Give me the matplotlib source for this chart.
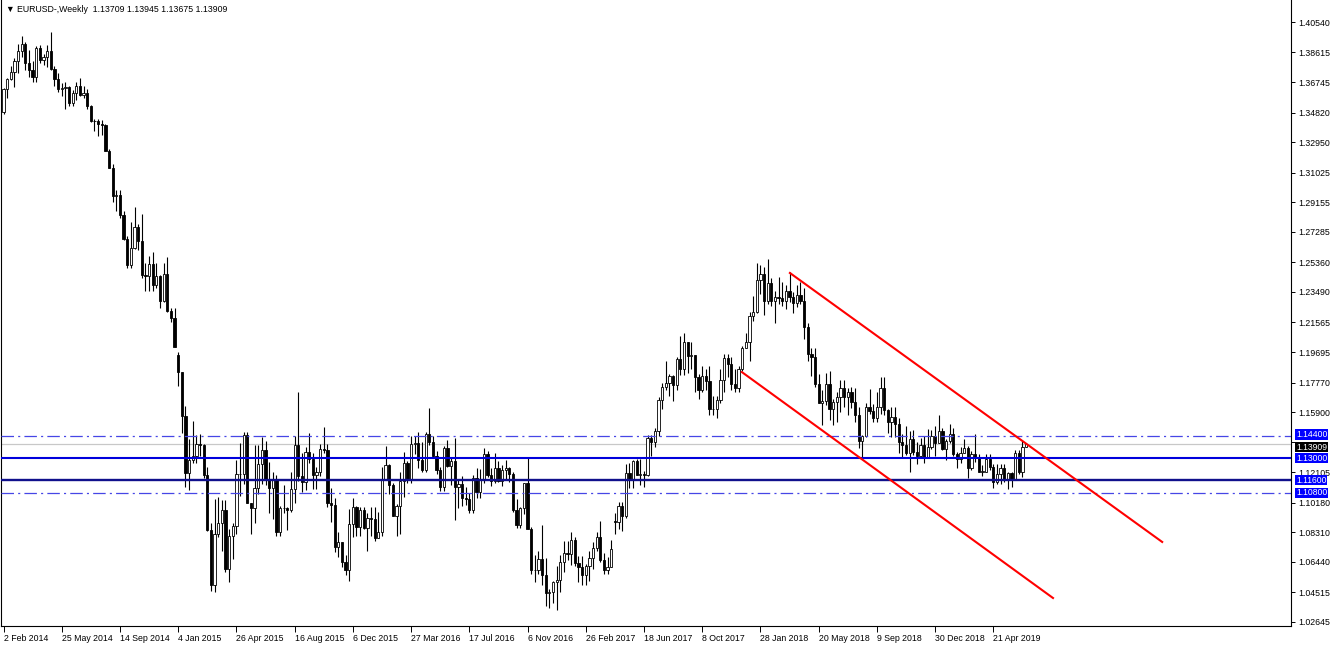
import numpy as np
import matplotlib.pyplot as plt
import matplotlib.transforms as mtransforms

plt.rcParams['font.family'] = ['Liberation Sans', 'DejaVu Sans']
plt.rcParams['lines.scale_dashes'] = False

# weekly EURUSD bars, 2 Feb 2014 .. 23 Jun 2019 (282 weeks)
opens = [
    # 2014
    1.3485, 1.3633, 1.3693, 1.3740, 1.3805, 1.3870, 1.3912, 1.3792, 1.3752, 1.3705, 1.3887, 1.3813,
    1.3832, 1.3870, 1.3757, 1.3696, 1.3632, 1.3636, 1.3642, 1.3541, 1.3608, 1.3647, 1.3592, 1.3605,
    1.3524, 1.3428, 1.3428, 1.3410, 1.3402, 1.3242, 1.3131, 1.2952, 1.2963, 1.2833, 1.2686, 1.2518,
    1.2628, 1.2760, 1.2670, 1.2453, 1.2450, 1.2525, 1.2390, 1.2452, 1.2289, 1.2465, 1.2228, 1.2186,
    # 2015
    1.1950, 1.1842, 1.1563, 1.1205, 1.1290, 1.1313, 1.1386, 1.1383, 1.1196, 1.0845, 1.0495, 1.0823,
    1.0890, 1.0970, 1.0600, 1.0805, 1.0872, 1.1198, 1.1202, 1.1447, 1.1015, 1.0987, 1.1111, 1.1265,
    1.1350, 1.1165, 1.1110, 1.1165, 1.0830, 1.0983, 1.0985, 1.0970, 1.1105, 1.1385, 1.1185, 1.1150,
    1.1340, 1.1297, 1.1195, 1.1215, 1.1355, 1.1350, 1.1015, 1.1005, 1.0740, 1.0770, 1.0645, 1.0590,
    1.0885, 1.0990, 1.0865, 1.0975,
    # 2016
    1.0860, 1.0920, 1.0915, 1.0795, 1.0830, 1.1160, 1.1255, 1.1130, 1.0935, 1.1000, 1.1155, 1.1270,
    1.1170, 1.1390, 1.1395, 1.1285, 1.1225, 1.1455, 1.1400, 1.1310, 1.1225, 1.1115, 1.1365, 1.1250,
    1.1280, 1.1115, 1.1135, 1.1050, 1.1040, 1.0975, 1.1175, 1.1085, 1.1165, 1.1325, 1.1195, 1.1155,
    1.1235, 1.1155, 1.1225, 1.1240, 1.1200, 1.0970, 1.0880, 1.0985, 1.1140, 1.0855, 1.0590, 1.0590,
    1.0665, 1.0560, 1.0450, 1.0455,
    # 2017
    1.0520, 1.0530, 1.0645, 1.0700, 1.0695, 1.0780, 1.0640, 1.0615, 1.0560, 1.0620, 1.0670, 1.0735,
    1.0800, 1.0655, 1.0590, 1.0615, 1.0905, 1.0895, 1.0995, 1.0935, 1.1205, 1.1165, 1.1280, 1.1195,
    1.1200, 1.1195, 1.1425, 1.1400, 1.1470, 1.1665, 1.1750, 1.1775, 1.1820, 1.1760, 1.1925, 1.1860,
    1.2035, 1.1945, 1.1950, 1.1815, 1.1730, 1.1820, 1.1785, 1.1610, 1.1610, 1.1665, 1.1795, 1.1935,
    1.1895, 1.1770, 1.1745, 1.1860,
    # 2018
    1.1995, 1.2030, 1.2200, 1.2225, 1.2425, 1.2460, 1.2290, 1.2405, 1.2295, 1.2315, 1.2310, 1.2290,
    1.2355, 1.2320, 1.2280, 1.2330, 1.2290, 1.2130, 1.1960, 1.1940, 1.1770, 1.1650, 1.1660, 1.1770,
    1.1610, 1.1655, 1.1685, 1.1745, 1.1685, 1.1720, 1.1655, 1.1570, 1.1410, 1.1440, 1.1620, 1.1600,
    1.1550, 1.1625, 1.1745, 1.1605, 1.1525, 1.1560, 1.1515, 1.1400, 1.1385, 1.1335, 1.1420, 1.1340,
    1.1315, 1.1385, 1.1305, 1.1370,
    # 2019
    1.1440, 1.1395, 1.1470, 1.1360, 1.1410, 1.1455, 1.1325, 1.1295, 1.1335, 1.1365, 1.1235, 1.1325,
    1.1300, 1.1215, 1.1215, 1.1295, 1.1245, 1.1150, 1.1200, 1.1235, 1.1160, 1.1205, 1.1170, 1.1335,
    1.1210, 1.13709,
]

highs = [
    1.3640, 1.3703, 1.3773, 1.3825, 1.3915, 1.3967, 1.3925, 1.3877, 1.3810, 1.3905, 1.3906, 1.3853,
    1.3907, 1.3993, 1.3775, 1.3734, 1.3669, 1.3677, 1.3648, 1.3625, 1.3676, 1.3700, 1.3647, 1.3630,
    1.3532, 1.3444, 1.3443, 1.3434, 1.3410, 1.3250, 1.3160, 1.2994, 1.2995, 1.2863, 1.2700, 1.2792,
    1.2887, 1.2780, 1.2840, 1.2535, 1.2577, 1.2600, 1.2533, 1.2456, 1.2532, 1.2570, 1.2250, 1.2250,
    1.1970, 1.1845, 1.1630, 1.1420, 1.1534, 1.1443, 1.1450, 1.1390, 1.1245, 1.0890, 1.1043, 1.1052,
    1.1035, 1.1035, 1.0850, 1.0890, 1.1290, 1.1392, 1.1467, 1.1465, 1.1015, 1.1380, 1.1385, 1.1436,
    1.1410, 1.1278, 1.1215, 1.1190, 1.0999, 1.1130, 1.0990, 1.1215, 1.1440, 1.1714, 1.1330, 1.1370,
    1.1460, 1.1330, 1.1245, 1.1390, 1.1495, 1.1390, 1.1110, 1.1050, 1.0830, 1.0760, 1.0690, 1.0980,
    1.1045, 1.1000, 1.0990, 1.0990,
    1.0950, 1.0990, 1.0990, 1.0960, 1.1245, 1.1375, 1.1260, 1.1140, 1.1010, 1.1215, 1.1340, 1.1280,
    1.1440, 1.1440, 1.1465, 1.1400, 1.1465, 1.1615, 1.1440, 1.1345, 1.1245, 1.1375, 1.1415, 1.1300,
    1.1425, 1.1165, 1.1185, 1.1120, 1.1080, 1.1195, 1.1235, 1.1230, 1.1365, 1.1345, 1.1240, 1.1330,
    1.1280, 1.1255, 1.1290, 1.1245, 1.1215, 1.1040, 1.0990, 1.1145, 1.1300, 1.0865, 1.0690, 1.0715,
    1.0875, 1.0670, 1.0475, 1.0525,
    1.0620, 1.0685, 1.0775, 1.0775, 1.0830, 1.0800, 1.0680, 1.0680, 1.0630, 1.0715, 1.0770, 1.0830,
    1.0905, 1.0700, 1.0675, 1.0780, 1.0950, 1.1020, 1.1020, 1.1265, 1.1270, 1.1285, 1.1295, 1.1295,
    1.1220, 1.1445, 1.1445, 1.1490, 1.1685, 1.1775, 1.1910, 1.1830, 1.1825, 1.1940, 1.2070, 1.2090,
    1.2035, 1.2035, 1.1950, 1.1830, 1.1880, 1.1860, 1.1880, 1.1690, 1.1690, 1.1860, 1.1960, 1.1960,
    1.1940, 1.1860, 1.1880, 1.2005,
    1.2090, 1.2220, 1.2325, 1.2535, 1.2520, 1.2505, 1.2555, 1.2435, 1.2355, 1.2445, 1.2410, 1.2390,
    1.2475, 1.2350, 1.2395, 1.2415, 1.2375, 1.2150, 1.1995, 1.1995, 1.1830, 1.1730, 1.1840, 1.1850,
    1.1670, 1.1720, 1.1790, 1.1790, 1.1745, 1.1750, 1.1745, 1.1625, 1.1445, 1.1650, 1.1735, 1.1640,
    1.1720, 1.1815, 1.1815, 1.1610, 1.1620, 1.1620, 1.1550, 1.1455, 1.1500, 1.1470, 1.1475, 1.1400,
    1.1425, 1.1440, 1.1485, 1.1475,
    1.1500, 1.1570, 1.1490, 1.1420, 1.1515, 1.1490, 1.1340, 1.1370, 1.1420, 1.1375, 1.1345, 1.1450,
    1.1325, 1.1255, 1.1325, 1.1325, 1.1265, 1.1265, 1.1265, 1.1265, 1.1215, 1.1215, 1.1350, 1.1350,
    1.1410, 1.13945,
]

lows = [
    1.3475, 1.3575, 1.3685, 1.3642, 1.3735, 1.3831, 1.3750, 1.3706, 1.3673, 1.3672, 1.3792, 1.3785,
    1.3772, 1.3750, 1.3648, 1.3615, 1.3587, 1.3503, 1.3525, 1.3525, 1.3560, 1.3585, 1.3574, 1.3505,
    1.3421, 1.3366, 1.3333, 1.3343, 1.3239, 1.3130, 1.2920, 1.2860, 1.2815, 1.2680, 1.2501, 1.2500,
    1.2622, 1.2615, 1.2440, 1.2358, 1.2358, 1.2358, 1.2375, 1.2246, 1.2285, 1.2220, 1.2162, 1.2000,
    1.1754, 1.1460, 1.1115, 1.1098, 1.1270, 1.1270, 1.1315, 1.1175, 1.0839, 1.0462, 1.0455, 1.0801,
    1.0713, 1.0578, 1.0520, 1.0660, 1.0818, 1.1060, 1.1135, 1.1015, 1.0819, 1.0887, 1.1070, 1.1134,
    1.1130, 1.0955, 1.0915, 1.0808, 1.0808, 1.0950, 1.0848, 1.0960, 1.1017, 1.1155, 1.1087, 1.1100,
    1.1270, 1.1105, 1.1105, 1.1185, 1.1330, 1.0990, 1.0895, 1.0705, 1.0675, 1.0615, 1.0560, 1.0525,
    1.0800, 1.0805, 1.0805, 1.0850,
    1.0710, 1.0805, 1.0775, 1.0795, 1.0810, 1.1160, 1.1070, 1.0935, 1.0810, 1.0820, 1.1055, 1.1145,
    1.1145, 1.1325, 1.1235, 1.1215, 1.1215, 1.1385, 1.1300, 1.1200, 1.1095, 1.1095, 1.1245, 1.1130,
    1.0910, 1.0985, 1.1000, 1.1005, 1.0950, 1.0950, 1.1045, 1.1045, 1.1145, 1.1180, 1.1125, 1.1145,
    1.1150, 1.1125, 1.1160, 1.1150, 1.0960, 1.0860, 1.0860, 1.0945, 1.0850, 1.0570, 1.0520, 1.0570,
    1.0500, 1.0365, 1.0350, 1.0385,
    1.0340, 1.0455, 1.0580, 1.0655, 1.0625, 1.0620, 1.0520, 1.0495, 1.0495, 1.0525, 1.0600, 1.0710,
    1.0645, 1.0570, 1.0570, 1.0610, 1.0820, 1.0850, 1.0840, 1.0920, 1.1110, 1.1110, 1.1190, 1.1130,
    1.1120, 1.1185, 1.1310, 1.1370, 1.1440, 1.1610, 1.1730, 1.1690, 1.1660, 1.1730, 1.1825, 1.1825,
    1.1840, 1.1860, 1.1715, 1.1670, 1.1720, 1.1730, 1.1575, 1.1575, 1.1555, 1.1645, 1.1715, 1.1810,
    1.1730, 1.1715, 1.1715, 1.1850,
    1.1995, 1.1915, 1.2165, 1.2215, 1.2335, 1.2205, 1.2275, 1.2260, 1.2150, 1.2275, 1.2260, 1.2240,
    1.2285, 1.2215, 1.2255, 1.2275, 1.2055, 1.1910, 1.1820, 1.1750, 1.1645, 1.1510, 1.1635, 1.1540,
    1.1510, 1.1525, 1.1590, 1.1625, 1.1575, 1.1615, 1.1530, 1.1365, 1.1300, 1.1430, 1.1580, 1.1530,
    1.1530, 1.1580, 1.1570, 1.1460, 1.1430, 1.1430, 1.1335, 1.1300, 1.1320, 1.1215, 1.1320, 1.1265,
    1.1305, 1.1270, 1.1300, 1.1355,
    1.1310, 1.1395, 1.1350, 1.1290, 1.1395, 1.1315, 1.1235, 1.1270, 1.1330, 1.1175, 1.1225, 1.1275,
    1.1215, 1.1185, 1.1210, 1.1225, 1.1110, 1.1135, 1.1135, 1.1150, 1.1105, 1.1115, 1.1160, 1.1200,
    1.1180, 1.13675,
]

closes = [
    1.3633, 1.3693, 1.3740, 1.3805, 1.3870, 1.3912, 1.3792, 1.3752, 1.3705, 1.3887, 1.3813, 1.3832,
    1.3870, 1.3757, 1.3696, 1.3632, 1.3636, 1.3642, 1.3541, 1.3608, 1.3647, 1.3592, 1.3605, 1.3524,
    1.3428, 1.3428, 1.3410, 1.3402, 1.3242, 1.3131, 1.2952, 1.2963, 1.2833, 1.2686, 1.2518, 1.2628,
    1.2760, 1.2670, 1.2453, 1.2450, 1.2525, 1.2390, 1.2452, 1.2289, 1.2465, 1.2228, 1.2186, 1.2002,
    1.1842, 1.1563, 1.1205, 1.1290, 1.1313, 1.1386, 1.1383, 1.1196, 1.0845, 1.0495, 1.0823, 1.0890,
    1.0970, 1.0600, 1.0805, 1.0872, 1.1198, 1.1202, 1.1447, 1.1015, 1.0987, 1.1111, 1.1265, 1.1350,
    1.1165, 1.1110, 1.1165, 1.0830, 1.0983, 1.0985, 1.0970, 1.1105, 1.1385, 1.1185, 1.1150, 1.1340,
    1.1297, 1.1195, 1.1215, 1.1355, 1.1350, 1.1015, 1.1005, 1.0740, 1.0770, 1.0645, 1.0590, 1.0885,
    1.0990, 1.0865, 1.0975, 1.0860,
    1.0920, 1.0915, 1.0795, 1.0830, 1.1160, 1.1255, 1.1130, 1.0935, 1.1000, 1.1155, 1.1270, 1.1170,
    1.1390, 1.1395, 1.1285, 1.1225, 1.1455, 1.1400, 1.1310, 1.1225, 1.1115, 1.1365, 1.1250, 1.1280,
    1.1115, 1.1135, 1.1050, 1.1040, 1.0975, 1.1175, 1.1085, 1.1165, 1.1325, 1.1195, 1.1155, 1.1235,
    1.1155, 1.1225, 1.1240, 1.1200, 1.0970, 1.0880, 1.0985, 1.1140, 1.0855, 1.0590, 1.0590, 1.0665,
    1.0560, 1.0450, 1.0455, 1.0520,
    1.0530, 1.0645, 1.0700, 1.0695, 1.0780, 1.0640, 1.0615, 1.0560, 1.0620, 1.0670, 1.0735, 1.0800,
    1.0655, 1.0590, 1.0615, 1.0725, 1.0895, 1.0995, 1.0935, 1.1205, 1.1165, 1.1280, 1.1195, 1.1200,
    1.1195, 1.1425, 1.1400, 1.1470, 1.1665, 1.1750, 1.1775, 1.1820, 1.1760, 1.1925, 1.1860, 1.2035,
    1.1945, 1.1950, 1.1815, 1.1730, 1.1820, 1.1785, 1.1610, 1.1610, 1.1665, 1.1795, 1.1935, 1.1895,
    1.1770, 1.1745, 1.1860, 1.1995,
    1.2030, 1.2200, 1.2225, 1.2425, 1.2460, 1.2290, 1.2405, 1.2295, 1.2315, 1.2310, 1.2290, 1.2355,
    1.2320, 1.2280, 1.2330, 1.2290, 1.2130, 1.1960, 1.1940, 1.1770, 1.1650, 1.1660, 1.1770, 1.1610,
    1.1655, 1.1685, 1.1745, 1.1685, 1.1720, 1.1655, 1.1570, 1.1410, 1.1440, 1.1620, 1.1600, 1.1550,
    1.1625, 1.1745, 1.1605, 1.1525, 1.1560, 1.1515, 1.1400, 1.1385, 1.1335, 1.1420, 1.1340, 1.1315,
    1.1385, 1.1305, 1.1370, 1.1440,
    1.1395, 1.1470, 1.1360, 1.1410, 1.1455, 1.1325, 1.1295, 1.1335, 1.1365, 1.1235, 1.1325, 1.1300,
    1.1215, 1.1215, 1.1295, 1.1245, 1.1150, 1.1200, 1.1235, 1.1160, 1.1205, 1.1170, 1.1335, 1.1210,
    1.1370, 1.13909,
]

date_ticks = ['2 Feb 2014', '25 May 2014', '14 Sep 2014', '4 Jan 2015', '26 Apr 2015', '16 Aug 2015',
              '6 Dec 2015', '27 Mar 2016', '17 Jul 2016', '6 Nov 2016', '26 Feb 2017', '18 Jun 2017',
              '8 Oct 2017', '28 Jan 2018', '20 May 2018', '9 Sep 2018', '30 Dec 2018', '21 Apr 2019']
price_ticks = [1.40540, 1.38615, 1.36745, 1.34820, 1.32950, 1.31025, 1.29155, 1.27285, 1.25360,
               1.23490, 1.21565, 1.19695, 1.17770, 1.15900, 1.14030, 1.12105, 1.10180, 1.08310,
               1.06440, 1.04515, 1.02645]
hidden_tick = 1.14030  # covered by the price boxes in the terminal

# horizontal levels and channel lines
dash_levels = [1.1440, 1.1080]
solid_levels = [1.1300, 1.1160]
bid_price = 1.13909
upper_chan_x = [216.1, 318.4]
upper_chan_y = [1.2469, 1.0770]
lower_chan_x = [202.9, 288.4]
lower_chan_y = [1.1843, 1.0416]

o = np.array(opens)
h = np.array(highs)
l = np.array(lows)
c = np.array(closes)
h = np.maximum(h, np.maximum(o, c))
l = np.minimum(l, np.minimum(o, c))
x = np.arange(len(c))

W, H = 1332, 646
fig = plt.figure(figsize=(W / 100, H / 100), dpi=100)
ax = fig.add_axes([1 / W, 1 - 626 / H, 1290 / W, 626 / H])
ax.set_xlim(-0.69, 353.8)
ax.set_ylim(1.02392, 1.41930)

# candles
ax.vlines(x, l, h, color='black', lw=0.8, zorder=2)
up = c >= o
body_lo = np.minimum(o, c)
body_h = np.maximum(np.abs(c - o), 0.00008)
ax.bar(x[up], body_h[up], bottom=body_lo[up], width=0.62, color='white',
       edgecolor='black', linewidth=0.6, zorder=3)
ax.bar(x[~up], body_h[~up], bottom=body_lo[~up], width=0.62, color='black',
       edgecolor='black', linewidth=0.6, zorder=3)

ax.axhline(bid_price, color='#c8c8c8', lw=0.9, zorder=1)
for lv in dash_levels:
    ax.axhline(lv, color='#4646e6', lw=0.9, linestyle=(0, (9, 3, 1.5, 3)), zorder=4)
ax.axhline(solid_levels[0], color='#0000dc', lw=1.5, zorder=4)
ax.axhline(solid_levels[1], color='#10108c', lw=1.7, zorder=4)

ax.plot(upper_chan_x, upper_chan_y, color='#ff0000', lw=1.5, zorder=5)
ax.plot(lower_chan_x, lower_chan_y, color='#ff0000', lw=1.5, zorder=5)

# axes
for s in ['left', 'right', 'bottom']:
    ax.spines[s].set_color('black')
    ax.spines[s].set_linewidth(0.8)
ax.spines['top'].set_visible(False)

ax.yaxis.tick_right()
ax.set_yticks(price_ticks)
ax.set_yticklabels(['' if p == hidden_tick else '%.5f' % p for p in price_ticks])
ax.tick_params(axis='y', direction='out', length=3, width=0.7, labelsize=6.3, pad=2)

ax.set_xticks(np.arange(0, 16 * len(date_ticks), 16))
ax.set_xticklabels(date_ticks)
ax.tick_params(axis='x', direction='out', length=4, width=0.7, labelsize=6.3, pad=1.5)
for t in ax.get_xticklabels():
    t.set_ha('left')

# price boxes on the right scale (bid box nudged down like the terminal does)
trans = mtransforms.blended_transform_factory(ax.transAxes, ax.transData)
boxes = [(bid_price, '#000000', -2.6), (dash_levels[1], '#0000ff', 0), (solid_levels[1], '#0000ff', 0),
         (solid_levels[0], '#0000ff', 0), (dash_levels[0], '#0000ff', 1.0)]
for p, col, dy in boxes:
    ax.annotate('%.5f' % p, xy=(1 + 5 / 1290, p), xycoords=trans, xytext=(0, dy),
                textcoords='offset points', ha='left', va='center',
                color='white', fontsize=6.2, annotation_clip=False, zorder=10,
                bbox=dict(boxstyle='square,pad=0.08', fc=col, ec='none'))

fig.text(6 / W, 1 - 10 / H, '\u25bc EURUSD-,Weekly  1.13709 1.13945 1.13675 1.13909',
         fontsize=6.3, va='center', ha='left')

fig.savefig('out.png', dpi=100, facecolor='white')
